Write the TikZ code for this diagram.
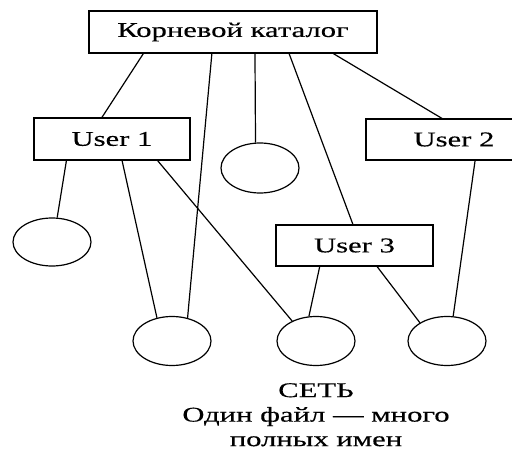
\documentclass[tikz,border=0pt]{standalone}
\usepackage{fontspec}
\setmainfont{Liberation Serif}[FakeStretch=1.46,FakeBold=0.35]
\usetikzlibrary{shapes.geometric,calc}
\begin{document}
\begin{tikzpicture}[x=1pt,y=-1pt,
  label font/.style={font=\fontsize{21}{24.5}\selectfont},
  dirbox/.style={draw,line width=1.2pt,rectangle,inner sep=0pt,label font},
  filenode/.style={draw,line width=1.2pt,ellipse,inner sep=0pt,minimum width=78pt,minimum height=49pt},
  link/.style={line width=1.2pt}]
\useasboundingbox (0,0) rectangle (512,452);

% directories
\node[dirbox,minimum width=288pt,minimum height=42pt] (root) at (233,32) {Корневой каталог};
\node[dirbox,minimum width=156pt,minimum height=42pt] (u1) at (112,139) {User 1};
\node[dirbox,minimum width=176pt,minimum height=41pt] (u2) at (454,139.5) {User 2};
\node[dirbox,minimum width=157pt,minimum height=41pt] (u3) at (354.5,245.5) {User 3};

% files
\node[filenode,minimum height=50pt] (fm) at (260,168) {};
\node[filenode,minimum height=48pt] (fl) at (52,242) {};
\node[filenode] (fa) at (172,341) {};
\node[filenode] (fb) at (316,341) {};
\node[filenode] (fc) at (447,341) {};

% links from the root directory
\draw[link] ($(root.south west)!0.19!(root.south east)$) -- ($(u1.north west)!0.436!(u1.north east)$);
\draw[link] ($(root.south west)!0.427!(root.south east)$) -- (fa.56);
\draw[link] ($(root.south west)!0.576!(root.south east)$) -- (fm.100);
\draw[link] ($(root.south west)!0.694!(root.south east)$) -- ($(u3.north west)!0.49!(u3.north east)$);
\draw[link] ($(root.south west)!0.847!(root.south east)$) -- ($(u2.north west)!0.432!(u2.north east)$);

% links from User 1
\draw[link] ($(u1.south west)!0.21!(u1.south east)$) -- (fl.78);
\draw[link] ($(u1.south west)!0.564!(u1.south east)$) -- (fa.123);
\draw[link] ($(u1.south west)!0.79!(u1.south east)$) -- (fb.140);

% links from User 2
\draw[link] ($(u2.south west)!0.619!(u2.south east)$) -- (fc.76);

% links from User 3
\draw[link] ($(u3.south west)!0.28!(u3.south east)$) -- (fb.106);
\draw[link] ($(u3.south west)!0.643!(u3.south east)$) -- (fc.146);

% caption
\node[label font,align=center,anchor=north,inner sep=0pt] (caption) at (316,383)
  {СЕТЬ\\Один файл — много\\полных имен};
\end{tikzpicture}
\end{document}
